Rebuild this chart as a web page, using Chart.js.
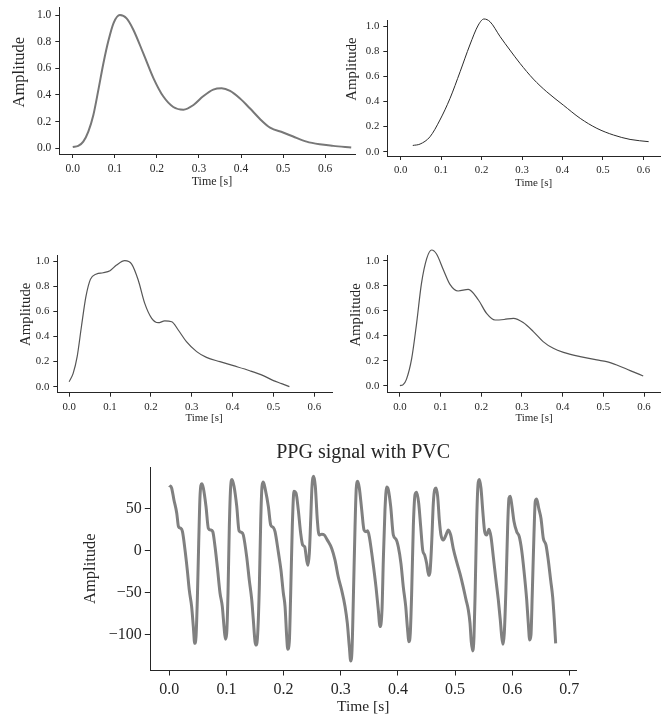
<!DOCTYPE html>
<html>
<head>
<meta charset="utf-8">
<script src="https://cdn.jsdelivr.net/npm/chart.js@4.4.0/dist/chart.umd.min.js"></script>
<style>
  html, body { margin: 0; padding: 0; background: #fff; }
  body { width: 668px; height: 718px; position: relative; overflow: hidden; }
  canvas { position: absolute; }
</style>
</head>
<body>
<canvas id="c1"></canvas>
<canvas id="c2"></canvas>
<canvas id="c3"></canvas>
<canvas id="c4"></canvas>
<canvas id="c5"></canvas>
<script>
// ---- data ----
// pulse 1 (top left)
const t1 = [0, 0.013, 0.025, 0.037, 0.049, 0.061, 0.073, 0.085, 0.097, 0.112, 0.128, 0.144, 0.168, 0.192, 0.215, 0.239, 0.263, 0.287, 0.31, 0.334, 0.354, 0.374, 0.397, 0.421, 0.445, 0.469, 0.5, 0.524, 0.556, 0.587, 0.619, 0.662];
const a1 = [0.01, 0.018, 0.05, 0.125, 0.25, 0.44, 0.64, 0.81, 0.94, 1.0, 0.975, 0.89, 0.71, 0.525, 0.39, 0.31, 0.29, 0.325, 0.39, 0.44, 0.45, 0.43, 0.375, 0.3, 0.22, 0.155, 0.118, 0.088, 0.05, 0.03, 0.018, 0.005];

// pulse 2 (top right)
const t2 = [0.03, 0.048, 0.0725, 0.097, 0.122, 0.147, 0.171, 0.192, 0.206, 0.221, 0.246, 0.27, 0.295, 0.328, 0.361, 0.402, 0.444, 0.485, 0.526, 0.567, 0.613];
const a2 = [0.05, 0.061, 0.119, 0.252, 0.424, 0.637, 0.849, 1.008, 1.056, 1.034, 0.915, 0.809, 0.703, 0.578, 0.477, 0.371, 0.265, 0.186, 0.133, 0.098, 0.08];

// pulse 3 (middle left)
const t3 = [0, 0.0098, 0.0196, 0.03, 0.041, 0.052, 0.067, 0.083, 0.1, 0.116, 0.136, 0.153, 0.169, 0.185, 0.202, 0.218, 0.234, 0.251, 0.267, 0.287, 0.312, 0.336, 0.369, 0.402, 0.442, 0.475, 0.5, 0.52, 0.539];
const a3 = [0.04, 0.106, 0.239, 0.477, 0.716, 0.854, 0.897, 0.907, 0.923, 0.968, 1.003, 0.976, 0.849, 0.663, 0.544, 0.509, 0.523, 0.517, 0.451, 0.358, 0.279, 0.233, 0.199, 0.167, 0.127, 0.088, 0.048, 0.024, 0.0];

// pulse 4 (middle right)
const t4 = [0, 0.008, 0.016, 0.029, 0.041, 0.053, 0.066, 0.078, 0.09, 0.107, 0.123, 0.143, 0.168, 0.193, 0.213, 0.234, 0.256, 0.279, 0.303, 0.328, 0.352, 0.377, 0.402, 0.443, 0.484, 0.508, 0.533, 0.566, 0.598];
const a4 = [0.003, 0.011, 0.053, 0.221, 0.501, 0.821, 1.021, 1.088, 1.056, 0.928, 0.813, 0.76, 0.773, 0.688, 0.581, 0.528, 0.532, 0.541, 0.507, 0.435, 0.355, 0.301, 0.269, 0.235, 0.208, 0.195, 0.168, 0.123, 0.08];

// PPG signal with PVC (bottom)
const t5 = [0, 0.004, 0.008, 0.013, 0.016, 0.02, 0.023, 0.0275, 0.0315, 0.035, 0.039, 0.042, 0.0444, 0.0467, 0.049, 0.0514, 0.0537, 0.0567, 0.0595, 0.0642, 0.0683, 0.0724, 0.076, 0.08, 0.084, 0.0887, 0.0927, 0.0957, 0.098, 0.1004, 0.1027, 0.105, 0.1074, 0.1097, 0.1132, 0.118, 0.122, 0.1267, 0.1295, 0.1354, 0.14, 0.1442, 0.147, 0.15, 0.1523, 0.1547, 0.1575, 0.16, 0.1622, 0.1645, 0.168, 0.1733, 0.1774, 0.182, 0.185, 0.1907, 0.1954, 0.1995, 0.2025, 0.2054, 0.2072, 0.21, 0.2124, 0.2152, 0.2182, 0.2217, 0.2257, 0.2299, 0.2334, 0.2369, 0.2404, 0.2427, 0.245, 0.2474, 0.2497, 0.2527, 0.2555, 0.259, 0.262, 0.2667, 0.2712, 0.2765, 0.2842, 0.29, 0.2957, 0.3017, 0.3075, 0.3115, 0.315, 0.3174, 0.3197, 0.322, 0.325, 0.3272, 0.3297, 0.3325, 0.3367, 0.3407, 0.3442, 0.3472, 0.35, 0.3559, 0.3617, 0.3657, 0.3687, 0.3722, 0.3745, 0.3774, 0.3804, 0.3832, 0.3874, 0.392, 0.3967, 0.4007, 0.4054, 0.4095, 0.4137, 0.4165, 0.4194, 0.4217, 0.4241, 0.427, 0.43, 0.4329, 0.4364, 0.4399, 0.4434, 0.4469, 0.4504, 0.4539, 0.4562, 0.4591, 0.462, 0.4644, 0.4667, 0.4696, 0.4725, 0.4754, 0.4795, 0.4842, 0.4882, 0.4924, 0.4969, 0.5029, 0.5087, 0.5144, 0.5192, 0.5232, 0.5262, 0.5284, 0.5309, 0.5332, 0.5354, 0.5379, 0.5402, 0.5425, 0.5454, 0.5484, 0.5519, 0.5554, 0.5594, 0.5629, 0.567, 0.5717, 0.5757, 0.5792, 0.5817, 0.5839, 0.5862, 0.5892, 0.5921, 0.5944, 0.5967, 0.5997, 0.6032, 0.6079, 0.6124, 0.6166, 0.6206, 0.6254, 0.6282, 0.6306, 0.6329, 0.6352, 0.6382, 0.6404, 0.6429, 0.6464, 0.6504, 0.6545, 0.6592, 0.6632, 0.6674, 0.6709, 0.6737, 0.6761];
const a5 = [78, 75, 61, 45, 29, 27, 23, 1, -23, -47, -66, -90, -110, -102, -58, 9, 65, 80, 75, 53, 27, 25, 23, 5, -19, -50, -66, -90, -105, -98, -50, 29, 77, 85, 77, 53, 24, 22, 19, -7, -35, -58, -82, -108, -112, -98, -43, 37, 77, 82, 73, 53, 31, 28, 23, -1, -23, -50, -66, -102, -117, -108, -50, 29, 71, 69, 49, 21, 7, 5, -11, -17, -3, 37, 77, 89, 77, 37, 19, 20, 19, 13, 3, -11, -31, -47, -66, -86, -114, -131, -118, -58, 29, 75, 83, 75, 49, 25, 23, 24, 17, -11, -43, -70, -90, -70, -11, 49, 76, 73, 53, 19, 14, 5, -15, -43, -66, -90, -108, -98, -50, 29, 67, 70, 57, 29, 1, -5, -15, -29, -25, 9, 57, 73, 75, 65, 37, 19, 13, 19, 25, 19, 3, -13, -27, -43, -58, -70, -86, -108, -119, -102, -43, 37, 79, 85, 75, 49, 23, 19, 26, 17, -7, -35, -58, -82, -102, -111, -98, -43, 29, 63, 65, 53, 35, 23, 17, 1, -23, -58, -86, -106, -100, -50, 21, 59, 62, 51, 39, 15, 7, -11, -35, -55, -82, -110];

// ticks and axis limits
const xTicksPulse = [0, 0.1, 0.2, 0.3, 0.4, 0.5, 0.6];
const yTicksPulse = [0, 0.2, 0.4, 0.6, 0.8, 1.0];
const xTicksPvc = [0, 0.1, 0.2, 0.3, 0.4, 0.5, 0.6, 0.7];
const yTicksPvc = [-100, -50, 0, 50];
const xLim1 = [-0.032, 0.671], yLim1 = [-0.043, 1.058];
const xLim2 = [-0.033, 0.641], yLim2 = [-0.034, 1.048];
const xLim3 = [-0.029, 0.644], yLim3 = [-0.048, 1.048];
const xLim4 = [-0.031, 0.641], yLim4 = [-0.054, 1.048];
const xLim5 = [-0.0333, 0.7117], yLim5 = [-141.7, 99.6];

// ---- drawing ----
const FONT = "'Liberation Serif', 'DejaVu Serif', serif";
const INK = '#262626';
const fmt1 = v => v.toFixed(1);
const fmtInt = v => (v < 0 ? '\u2212' + Math.abs(v) : String(v));

// shifts the axis titles a little, like the offset spines of the original
const nudgeTitles = {
  id: 'nudgeTitles',
  afterLayout(chart, args, opts) {
    ['x', 'y'].forEach(id => {
      const s = chart.scales[id];
      const d = opts[id];
      if (!s || !d || s.$nudged) return;
      const draw = s.drawTitle.bind(s);
      s.drawTitle = function () {
        chart.ctx.save();
        chart.ctx.translate(d.dx || 0, d.dy || 0);
        draw();
        chart.ctx.restore();
      };
      s.$nudged = true;
    });
  }
};

function panel(id, cfg) {
  const box = cfg.box;
  const ampLh = cfg.ampSize * 1.2;
  const timeLh = cfg.timeSize * 1.2;
  const left = Math.floor(cfg.ampX - ampLh / 2);
  const top = cfg.title ? cfg.title.canvasTop : Math.floor(box.t - 14);
  const right = Math.ceil(box.r + 14);
  const bottom = Math.ceil(cfg.timeY + timeLh / 2);

  const cv = document.getElementById(id);
  cv.width = right - left;
  cv.height = bottom - top;
  cv.style.left = left + 'px';
  cv.style.top = top + 'px';

  const yW = box.l - left;
  const xH = bottom - box.b;
  let padTop = box.t - top;
  let titleOpts = { display: false };
  if (cfg.title) {
    const lh = cfg.title.size * 1.2;
    const pt = cfg.title.y - top - lh / 2;
    titleOpts = {
      display: true, text: cfg.title.text, color: INK, fullSize: false,
      font: { family: FONT, size: cfg.title.size, weight: 'normal', lineHeight: 1.2 },
      padding: { top: pt, bottom: box.t - top - lh - pt }
    };
    padTop = 0;
  }

  new Chart(cv, {
    type: 'line',
    data: {
      datasets: [{
        data: cfg.t.map((x, i) => ({ x, y: cfg.a[i] })),
        borderColor: cfg.color,
        borderWidth: cfg.lineWidth,
        borderJoinStyle: 'round',
        pointRadius: 0,
        cubicInterpolationMode: 'monotone',
        fill: false,
        clip: false
      }]
    },
    options: {
      responsive: false,
      animation: false,
      events: [],
      layout: { padding: { left: 0, top: padTop, right: right - box.r, bottom: 0 } },
      plugins: {
        legend: { display: false },
        tooltip: { enabled: false },
        title: titleOpts,
        nudgeTitles: cfg.nudge
      },
      scales: {
        x: {
          type: 'linear',
          min: cfg.xLim[0], max: cfg.xLim[1],
          afterBuildTicks: s => { s.ticks = cfg.xTicks.map(v => ({ value: v })); },
          afterFit: s => { s.height = xH; },
          border: { color: INK, width: 1 },
          grid: { drawOnChartArea: false, drawTicks: true, tickLength: cfg.tickLen, tickColor: INK, tickWidth: 1 },
          ticks: { callback: cfg.xFmt, autoSkip: false, maxRotation: 0, color: INK, padding: cfg.xPad,
                   font: { family: FONT, size: cfg.tickSize } },
          title: { display: true, text: 'Time [s]', color: INK,
                   font: { family: FONT, size: cfg.timeSize, lineHeight: 1.2 },
                   padding: { top: 0, bottom: bottom - (cfg.timeY + timeLh / 2) } }
        },
        y: {
          type: 'linear',
          min: cfg.yLim[0], max: cfg.yLim[1],
          afterBuildTicks: s => { s.ticks = cfg.yTicks.map(v => ({ value: v })); },
          afterFit: s => { s.width = yW; },
          border: { color: INK, width: 1 },
          grid: { drawOnChartArea: false, drawTicks: true, tickLength: cfg.tickLen, tickColor: INK, tickWidth: 1 },
          ticks: { callback: cfg.yFmt, autoSkip: false, color: INK, padding: cfg.yPad,
                   font: { family: FONT, size: cfg.tickSize } },
          title: { display: true, text: 'Amplitude', color: INK,
                   font: { family: FONT, size: cfg.ampSize, lineHeight: 1.2 },
                   padding: { top: (cfg.ampX - ampLh / 2) - left, bottom: 0 } }
        }
      }
    },
    plugins: [nudgeTitles]
  });
}

const small = { xTicks: xTicksPulse, yTicks: yTicksPulse, xFmt: fmt1, yFmt: fmt1, tickLen: 4, xPad: 4, yPad: 4 };

panel('c1', Object.assign({}, small, {
  t: t1, a: a1, xLim: xLim1, yLim: yLim1, color: '#777777', lineWidth: 2,
  box: { l: 59.3, t: 7.3, r: 355, b: 154 }, ampX: 20, timeY: 182,
  ampSize: 16.5, timeSize: 12, tickSize: 11.5, nudge: { x: { dx: 4.8 }, y: { dy: -8.5 } }
}));
panel('c2', Object.assign({}, small, {
  t: t2, a: a2, xLim: xLim2, yLim: yLim2, color: '#2b2b2b', lineWidth: 1,
  box: { l: 387.3, t: 20, r: 660, b: 156 }, ampX: 352, timeY: 182.7,
  ampSize: 14.8, timeSize: 11, tickSize: 10.8, nudge: { x: { dx: 10 }, y: { dy: -19 } }
}));
panel('c3', Object.assign({}, small, {
  t: t3, a: a3, xLim: xLim3, yLim: yLim3, color: '#555555', lineWidth: 1.2,
  box: { l: 57.3, t: 255, r: 332.3, b: 392.7 }, ampX: 26.5, timeY: 418.3,
  ampSize: 14.8, timeSize: 11, tickSize: 10.8, nudge: { x: { dx: 9.2 }, y: { dy: -9.6 } }
}));
panel('c4', Object.assign({}, small, {
  t: t4, a: a4, xLim: xLim4, yLim: yLim4, color: '#555555', lineWidth: 1.2,
  box: { l: 387.3, t: 255, r: 660.7, b: 392.7 }, ampX: 356.5, timeY: 418.3,
  ampSize: 14.8, timeSize: 11, tickSize: 10.8, nudge: { x: { dx: 10 }, y: { dy: -8.9 } }
}));
panel('c5', {
  t: t5, a: a5, xLim: xLim5, yLim: yLim5, color: '#808080', lineWidth: 3,
  xTicks: xTicksPvc, yTicks: yTicksPvc, xFmt: fmt1, yFmt: fmtInt, tickLen: 5.5, xPad: 4.5, yPad: 3,
  box: { l: 150.3, t: 467.3, r: 576, b: 670 }, ampX: 90.5, timeY: 707,
  ampSize: 16.5, timeSize: 15.5, tickSize: 16, nudge: {},
  title: { text: 'PPG signal with PVC', size: 20, y: 452.5, canvasTop: 430 }
});
</script>
</body>
</html>
